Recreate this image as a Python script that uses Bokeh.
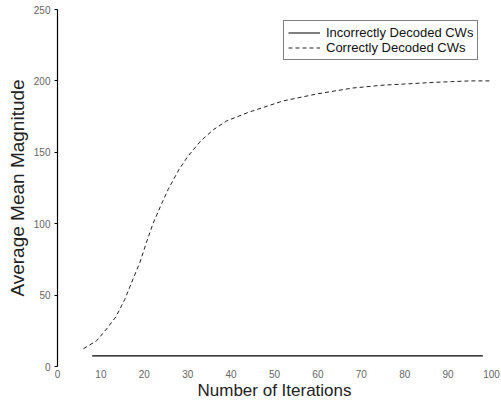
from bokeh.plotting import figure
from bokeh.models import Range1d, FixedTicker, Legend, LegendItem
from bokeh.embed import file_html
from bokeh.resources import INLINE

# Data
correct_x = [6, 9, 11.5, 13.5, 15.5, 17.5, 19, 20.5, 22, 24, 25.5, 28, 30, 33, 36, 39,
             44, 52, 60, 68, 75, 81, 87, 95, 100]
correct_y = [12.5, 18, 27, 35, 47, 62, 73, 87, 100, 114, 124, 138, 147, 158, 166, 172,
             178, 186, 191, 195, 197, 198, 199, 200, 200]
incorrect_x = [8, 98]
incorrect_y = [7.5, 7.5]
x_ticks = [0, 10, 20, 30, 40, 50, 60, 70, 80, 90, 100]
y_ticks = [0, 50, 100, 150, 200, 250]

p = figure(width=501, height=404, output_backend="svg", toolbar_location=None,
           x_range=Range1d(0, 100), y_range=Range1d(0, 250),
           min_border_left=57, min_border_right=10, min_border_top=9, min_border_bottom=38)
p.outline_line_color = None
p.grid.grid_line_color = None
p.background_fill_color = "white"
p.border_fill_color = "white"

r1 = p.line(incorrect_x, incorrect_y, line_color="black", line_width=1.2)
r2 = p.line(correct_x, correct_y, line_color="#222222", line_width=1, line_dash="4 3")

p.xaxis.ticker = FixedTicker(ticks=x_ticks)
p.yaxis.ticker = FixedTicker(ticks=y_ticks)
p.xaxis.axis_line_color = None
p.xaxis.major_tick_line_color = None
p.xaxis.minor_tick_line_color = None
p.xaxis.major_tick_out = 0
p.xaxis.major_tick_in = 0
p.yaxis.minor_tick_line_color = None
p.yaxis.major_tick_in = 0
p.yaxis.major_tick_out = 3
p.yaxis.axis_line_color = "black"
p.yaxis.axis_line_width = 1.2

for ax in (p.xaxis, p.yaxis):
    ax.major_label_text_font = "Liberation Sans"
    ax.major_label_text_font_size = "10px"
    ax.major_label_text_color = "#666666"
    ax.axis_label_text_font = "Liberation Sans"
    ax.axis_label_text_font_style = "normal"
    ax.axis_label_text_color = "#222222"

p.xaxis.axis_label = "Number of Iterations"
p.yaxis.axis_label = "Average Mean Magnitude"
p.xaxis.axis_label_text_font_size = "17px"
p.yaxis.axis_label_text_font_size = "19px"
p.xaxis.major_label_standoff = 3
p.xaxis.axis_label_standoff = 0
p.yaxis.major_label_standoff = 4
p.yaxis.axis_label_standoff = 3

legend = Legend(items=[LegendItem(label="Incorrectly Decoded CWs", renderers=[r1]),
                       LegendItem(label="Correctly Decoded CWs", renderers=[r2])],
                location=(226, 306))
legend.label_text_font = "Liberation Sans"
legend.label_text_font_size = "13px"
legend.label_text_color = "#111111"
legend.glyph_width = 32
legend.glyph_height = 15
legend.label_height = 15
legend.label_standoff = 6
legend.spacing = 0
legend.padding = 4
legend.margin = 0
legend.border_line_color = "black"
legend.border_line_width = 1
legend.background_fill_alpha = 1
p.add_layout(legend, "center")

open("out.html", "w").write(file_html(p, INLINE))
